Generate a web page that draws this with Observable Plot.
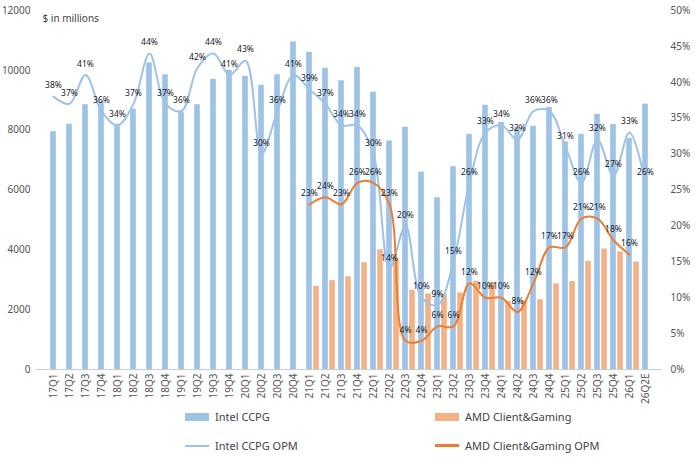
<!DOCTYPE html>
<html><head><meta charset="utf-8">
<script src="https://cdn.jsdelivr.net/npm/d3@7"></script>
<script src="https://cdn.jsdelivr.net/npm/@observablehq/plot@0.6"></script>
<style>
body{margin:0;background:#fff;font-family:"Noto Sans",sans-serif;}
#legend{display:grid;grid-template-columns:1fr 1fr;row-gap:14px;padding:4px 0 0 185px;font-size:11px;color:#444;width:500px}
.it{display:flex;align-items:center;gap:6px}
.sw{width:24px;height:8px;display:inline-block}
.ln{width:24px;height:2px;display:inline-block}
</style></head><body>
<div id="chart"></div>
<div id="legend">
<div class="it"><span class="sw" style="background:#9DC3E6"></span>Intel CCPG</div>
<div class="it"><span class="sw" style="background:#F4B183"></span>AMD Client&amp;Gaming</div>
<div class="it"><span class="ln" style="background:#9DC3E6"></span>Intel CCPG OPM</div>
<div class="it"><span class="ln" style="background:#ED7D31;height:3px"></span>AMD Client&amp;Gaming OPM</div>
</div>
<script>
const quarters = ["17Q1","17Q2","17Q3","17Q4","18Q1","18Q2","18Q3","18Q4","19Q1","19Q2","19Q3","19Q4","20Q1","20Q2","20Q3","20Q4","21Q1","21Q2","21Q3","21Q4","22Q1","22Q2","22Q3","22Q4","23Q1","23Q2","23Q3","23Q4","24Q1","24Q2","24Q3","24Q4","25Q1","25Q2","25Q3","25Q4","26Q1","26Q2E"];
const intelRev = [7950,8200,8850,8950,8200,8700,10250,9850,8600,8850,9700,10000,9800,9500,9850,10950,10600,10070,9650,10100,9270,7640,8100,6600,5740,6780,7860,8830,8260,8100,8130,8760,7610,7860,8530,8190,7720,8870];
const intelOpm = [38,37,41,36,34,37,44,37,36,42,44,41,43,30,36,41,39,37,34,34,30,14,20,10,9,15,26,33,34,32,36,36,31,26,32,27,33,26];
const amdQuarters = quarters.slice(16,37);
const amdRev = [2780,2970,3100,3570,4000,3700,2650,2530,2500,2560,2950,2900,2270,2300,2330,2860,2940,3610,4030,3930,3590];
const amdOpm = [23,24,23,26,26,23,4,4,6,6,12,10,10,8,12,17,17,21,21,18,16];

const K = 24000/100; // pct -> left scale units
const intel = quarters.map((q,i)=>({q,rev:intelRev[i],opm:intelOpm[i]}));
const amd = amdQuarters.map((q,i)=>({q,rev:amdRev[i],opm:amdOpm[i]}));

const chart = Plot.plot({
  width:700,height:405,marginLeft:36,marginRight:38,marginTop:10,marginBottom:36,
  style:{fontFamily:"Noto Sans, sans-serif",fontSize:"10px",color:"#555"},
  x:{type:"band",domain:quarters,padding:0,label:null},
  y:{domain:[0,12000],label:null},
  marks:[
    Plot.axisY({ticks:d3.range(0,12001,2000),tickSize:0,tickFormat:d=>String(d),tickPadding:6}),
    Plot.axisY({anchor:"right",ticks:d3.range(0,12001,1200),tickSize:0,tickFormat:d=>Math.round(d/K)+"%",tickPadding:8}),
    Plot.axisX({tickRotate:-90,tickSize:0,tickPadding:4}),
    Plot.ruleY([0],{stroke:"#ccc"}),
    Plot.barY(intel,{x:"q",y:"rev",fill:"#9DC3E6",insetLeft:5.2,insetRight:5.2}),
    Plot.barY(amd,{x:"q",y:"rev",fill:"#F4B183",insetLeft:5.2,insetRight:5.2,dx:7}),
    Plot.line(intel,{x:"q",y:d=>d.opm*K,stroke:"#9DC3E6",strokeWidth:2,curve:"catmull-rom"}),
    Plot.line(amd,{x:"q",y:d=>d.opm*K,stroke:"#ED7D31",strokeWidth:2,curve:"catmull-rom"}),
    Plot.text(intel,{x:"q",y:d=>d.opm*K,text:d=>d.opm+"%",dy:-11,fill:"#222",fontSize:8.5}),
    Plot.text(amd,{x:"q",y:d=>d.opm*K,text:d=>d.opm+"%",dy:-11,fill:"#222",fontSize:8.5}),
    Plot.text(["$ in millions"],{frameAnchor:"top-left",dx:6,dy:4,fill:"#444",fontSize:10,textAnchor:"start"})
  ]
});
document.getElementById("chart").append(chart);
</script></body></html>
